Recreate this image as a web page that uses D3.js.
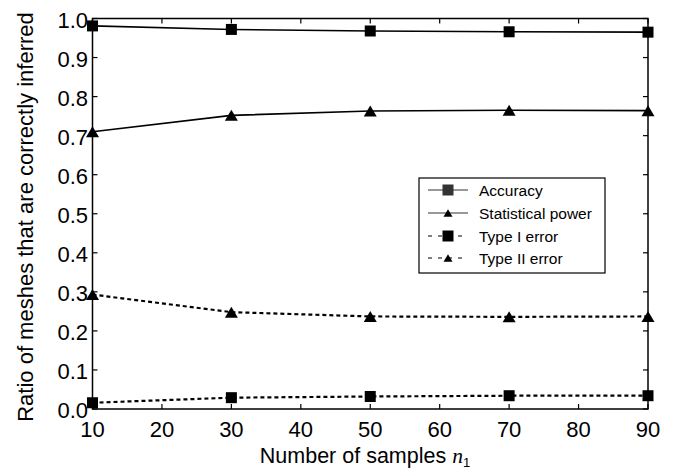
<!DOCTYPE html>
<html><head><meta charset="utf-8">
<script src="https://cdn.jsdelivr.net/npm/d3@7"></script>
<style>
body{margin:0;background:#fff;}
svg{display:block;}
text{font-family:"Liberation Sans",Arial,sans-serif;fill:#000;}
</style></head>
<body>
<script>
const samples = [10, 30, 50, 70, 90];
const accuracy = [0.981, 0.972, 0.968, 0.966, 0.965];
const statPower = [0.710, 0.752, 0.763, 0.765, 0.764];
const typeI = [0.016, 0.029, 0.032, 0.034, 0.034];
const typeII = [0.293, 0.248, 0.237, 0.236, 0.237];
const xTicks = [10, 20, 30, 40, 50, 60, 70, 80, 90];
const yTicks = [0, 0.1, 0.2, 0.3, 0.4, 0.5, 0.6, 0.7, 0.8, 0.9, 1.0];
const seriesNames = ["Accuracy", "Statistical power", "Type I error", "Type II error"];

const W = 674, H = 469;
const m = {left: 92.5, right: 648, top: 18.5, bottom: 409};
const svg = d3.select("body").append("svg").attr("width", W).attr("height", H);

const x = d3.scaleLinear().domain([10, 90]).range([m.left, m.right]);
const y = d3.scaleLinear().domain([0, 1]).range([m.bottom, m.top]);

const series = [
  {name: seriesNames[0], vals: accuracy, marker: "square", dash: null},
  {name: seriesNames[1], vals: statPower, marker: "triangle", dash: null},
  {name: seriesNames[2], vals: typeI, marker: "square", dash: "4,3"},
  {name: seriesNames[3], vals: typeII, marker: "triangle", dash: "4,3"}
];

// frame
svg.append("rect").attr("x", m.left).attr("y", m.top)
  .attr("width", m.right - m.left).attr("height", m.bottom - m.top)
  .attr("fill", "none").attr("stroke", "#000").attr("stroke-width", 1.5);

const tl = 5;
// inner ticks on all sides
const g = svg.append("g").attr("stroke", "#000").attr("stroke-width", 1.2);
xTicks.forEach(t => {
  g.append("line").attr("x1", x(t)).attr("x2", x(t)).attr("y1", m.bottom).attr("y2", m.bottom - tl);
  g.append("line").attr("x1", x(t)).attr("x2", x(t)).attr("y1", m.top).attr("y2", m.top + tl);
});
yTicks.forEach(t => {
  g.append("line").attr("y1", y(t)).attr("y2", y(t)).attr("x1", m.left).attr("x2", m.left + tl);
  g.append("line").attr("y1", y(t)).attr("y2", y(t)).attr("x1", m.right).attr("x2", m.right - tl);
});

// tick labels
svg.append("g").selectAll("text").data(xTicks).join("text")
  .attr("x", d => x(d)).attr("y", 437).attr("text-anchor", "middle")
  .attr("font-size", 22).text(d => d);
svg.append("g").selectAll("text").data(yTicks).join("text")
  .attr("x", 88).attr("y", d => y(d) + 9).attr("text-anchor", "end")
  .attr("font-size", 22).text(d => d3.format(".1f")(d));

// axis titles
const xt = svg.append("text").attr("x", 365).attr("y", 463).attr("text-anchor", "middle")
  .attr("font-size", 21.5);
xt.append("tspan").text("Number of samples ");
xt.append("tspan").attr("font-style", "italic").attr("font-family", "Liberation Serif, serif").text("n");
xt.append("tspan").attr("font-size", 13).attr("dy", 4).text("1");

svg.append("text").attr("transform", `translate(33,217) rotate(-90)`)
  .attr("text-anchor", "middle").attr("font-size", 22)
  .text("Ratio of meshes that are correctly inferred");

// marker drawing
function marker(sel, type, cx, cy, size, fill) {
  if (type === "square") {
    sel.append("rect").attr("x", cx - size / 2).attr("y", cy - size / 2)
      .attr("width", size).attr("height", size).attr("fill", fill);
  } else {
    const h = size * 0.85;
    sel.append("path").attr("d", `M${cx - size / 2},${cy + h / 2}L${cx + size / 2},${cy + h / 2}L${cx},${cy - h / 2}Z`)
      .attr("fill", fill);
  }
}

const line = d3.line().x((d, i) => x(samples[i])).y(d => y(d));
series.forEach(s => {
  svg.append("path").attr("d", line(s.vals)).attr("fill", "none")
    .attr("stroke", "#000").attr("stroke-width", s.dash ? 2.2 : 1.6)
    .attr("stroke-dasharray", s.dash);
  const mg = svg.append("g");
  s.vals.forEach((v, i) => marker(mg, s.marker, x(samples[i]), y(v), s.marker === "square" ? 11 : 13, "#000"));
});

// legend
const lg = svg.append("g");
lg.append("rect").attr("x", 419).attr("y", 178).attr("width", 186).attr("height", 95)
  .attr("fill", "#fff").attr("stroke", "#000").attr("stroke-width", 1.2);
const legY = [190, 213, 236, 258];
series.forEach((s, i) => {
  const yy = legY[i];
  lg.append("line").attr("x1", 428).attr("x2", 468).attr("y1", yy).attr("y2", yy)
    .attr("stroke", s.dash ? "#000" : "#333").attr("stroke-width", 1.2)
    .attr("stroke-dasharray", s.dash ? "4,6" : null);
  marker(lg, s.marker, 448, yy, s.marker === "square" ? 11 : 9, i === 0 ? "#333" : "#000");
  lg.append("text").attr("x", 479).attr("y", yy + 5.5).attr("font-size", 15.5).text(s.name);
});
</script>
</body></html>
